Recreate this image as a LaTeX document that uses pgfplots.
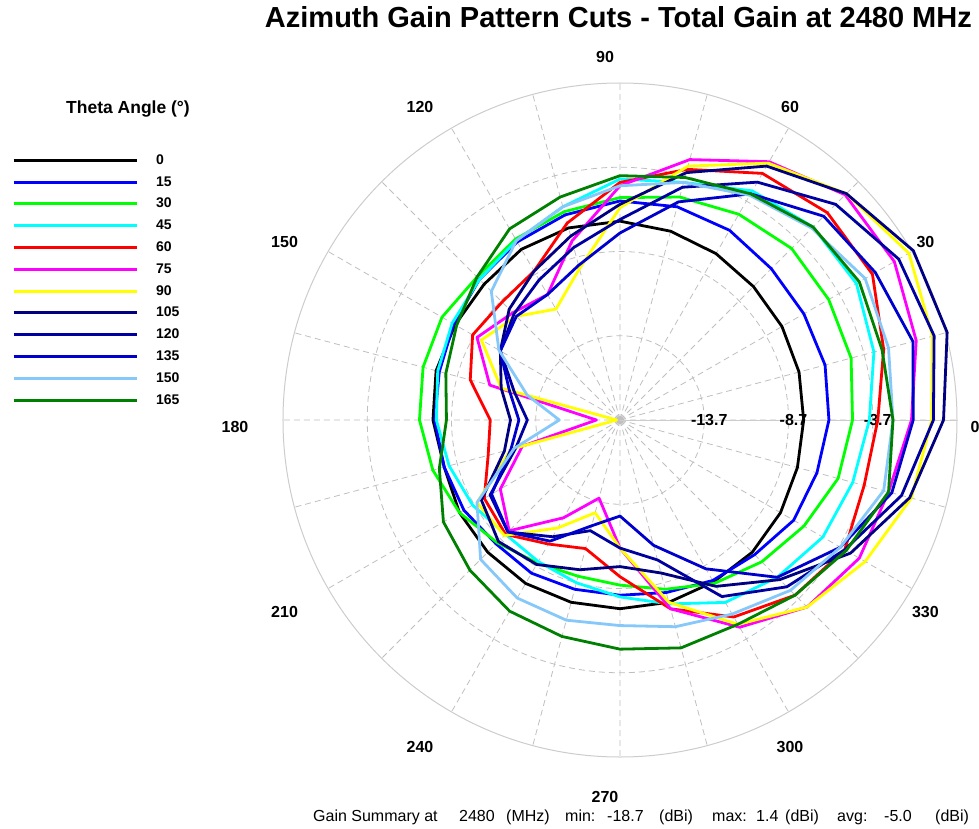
\documentclass[border=0pt]{standalone}
\usepackage{fontspec}
\setmainfont{Liberation Sans}
\usepackage{pgfplots}
\usepackage{pgfplotstable}
\pgfplotsset{compat=1.18}
\usepgfplotslibrary{polar}

\definecolor{cA}{RGB}{0,0,0}
\definecolor{cB}{RGB}{0,0,255}
\definecolor{cC}{RGB}{0,255,0}
\definecolor{cD}{RGB}{0,255,255}
\definecolor{cE}{RGB}{255,0,0}
\definecolor{cF}{RGB}{255,0,255}
\definecolor{cG}{RGB}{255,255,0}
\definecolor{cH}{RGB}{0,0,128}
\definecolor{cI}{RGB}{0,0,160}
\definecolor{cJ}{RGB}{0,0,205}
\definecolor{cK}{RGB}{135,200,250}
\definecolor{cL}{RGB}{0,128,0}

% total gain (dBi) per azimuth angle, one column per theta cut
\pgfplotstableread{
a    t0    t15   t30   t45   t60   t75   t90   t105  t120  t135  t150  t165
0   -7.8  -6.3  -4.9  -3.9  -3.4  -1.4  -0.2   0.5  -0.1  -1.3  -2.5  -2.5
15  -7.7  -6.1  -4.5  -3.1  -2.5  -0.5   0.5   1.4   0.6  -0.7  -2.2  -2.6
30  -7.6  -6.1  -4.4  -2.5  -1.4   0.1   1.1   1.4   0.4  -1.2  -1.9  -2.3
45  -7.5  -6.0  -4.3  -2.5  -1.3   0.2   0.3   0.3  -0.6  -1.6  -2.6  -2.5
60  -7.3  -5.7  -4.6  -3.0  -1.8  -1.0  -1.1  -1.3  -2.4  -3.2  -3.3  -3.2
75  -7.1  -5.6  -5.0  -4.1  -3.3  -2.7  -3.1  -3.5  -4.4  -5.3  -4.1  -3.8
90  -6.9  -5.7  -5.5  -4.4  -4.6  -4.8  -6.1  -5.9  -6.8  -7.6  -4.8  -4.2
105 -6.9  -6.1  -5.9  -5.6  -6.6  -7.7  -9.4  -7.4  -8.1  -9.2  -5.6  -5.0
120 -7.0  -6.5  -6.3  -6.4  -8.5 -10.1 -11.1  -8.5  -9.1 -10.1  -6.4  -5.6
135 -7.3  -6.9  -6.7  -6.9  -8.8  -9.7 -10.0  -9.4  -9.8 -10.0  -7.9  -6.7
150 -7.4  -7.3  -6.5  -7.2  -8.6  -8.9  -9.2 -10.5 -10.5 -10.5 -10.4  -7.5
165 -7.4  -7.6  -6.6  -7.5  -9.5 -10.7 -11.4 -11.4 -12.2 -11.9 -13.0  -8.0
180 -7.6  -7.7  -6.8  -7.8 -11.0 -17.3 -18.5 -12.2 -13.2 -12.7 -15.1  -8.4
195 -7.9  -7.9  -7.2  -8.2 -10.6 -12.7 -12.0 -11.6 -12.3 -12.0 -12.2  -7.6
210 -7.7  -8.0  -7.7  -8.6  -9.4 -10.5  -8.9  -9.2  -9.8  -9.9  -8.9  -6.6
225 -7.6  -8.3  -8.4  -9.1  -9.1  -9.4  -9.0  -8.5  -9.3  -9.3  -7.0  -6.1
240 -7.5  -8.2  -8.9  -9.0 -10.2 -12.0 -11.3  -8.8 -10.7 -10.4  -6.5  -5.6
255 -7.5  -8.3  -9.1  -8.7 -10.8 -13.9 -13.0  -9.5 -11.9 -12.2  -6.4  -5.4
270 -7.5  -8.3  -8.9  -8.2  -9.4 -11.1 -11.1 -10.0 -11.1 -13.0  -6.5  -5.1
285 -7.5  -8.1  -8.3  -7.4  -7.1  -7.1  -7.5  -9.3 -10.1 -11.0  -6.0  -4.7
300 -7.6  -7.7  -7.5  -6.2  -5.2  -4.5  -4.7  -7.3  -6.6  -8.5  -5.4  -4.7
315 -7.6  -7.4  -6.8  -5.5  -4.0  -3.0  -3.0  -5.3  -4.7  -5.5  -4.4  -4.0
330 -7.7  -6.8  -6.1  -4.8  -3.3  -2.3  -1.9  -2.9  -3.3  -3.6  -3.6  -3.2
345 -7.8  -6.6  -5.3  -4.4  -3.7  -2.2  -0.8  -0.9  -1.4  -2.0  -2.5  -2.2
360 -7.8  -6.3  -4.9  -3.9  -3.4  -1.4  -0.2   0.5  -0.1  -1.3  -2.5  -2.5
}\gain

\begin{document}
\begin{tikzpicture}
\useasboundingbox (0,0) rectangle (979pt,828pt);
\fill[gray!55] (620pt,408pt) circle (4pt);

\begin{polaraxis}[
  at={(620pt,408pt)}, anchor=center,
  width=674pt, height=674pt, scale only axis,
  xmin=0, xmax=360, ymin=0, ymax=20,
  xtick={0,30,...,330}, minor xtick={15,45,...,345},
  xticklabel={\relax},
  ytick={5,10,15}, yticklabels={-13.7,-8.7,-3.7},
  yticklabel style={anchor=center, xshift=5pt},
  ticklabel style={font=\bfseries\fontsize{16}{16}\selectfont},
  major tick length=0pt, minor tick length=0pt,
  grid=both,
  major grid style={gray!50, dash pattern=on 6pt off 4pt, line width=0.8pt},
  minor grid style={gray!50, dash pattern=on 6pt off 4pt, line width=0.8pt},
  axis line style={gray!40, line width=1pt},
  y filter/.expression={y+18.7},
  clip=false,
  every axis plot/.append style={line width=2.8pt, line join=round, no markers},
  legend style={at={(-0.4021,0.9019)}, anchor=north west, draw=none, fill=none,
    font=\bfseries\fontsize{14}{14}\selectfont, inner sep=0pt, row sep=0pt,
    column sep=18pt, nodes={inner sep=0pt, minimum height=21.8pt}},
  legend cell align=left,
  legend image code/.code={\draw[#1, line width=3pt, line cap=butt] (0pt,0pt) -- (123pt,0pt);},
]
\addplot[cA] table[x=a, y=t0]{\gain};   \addlegendentry{0}
\addplot[cB] table[x=a, y=t15]{\gain};  \addlegendentry{15}
\addplot[cC] table[x=a, y=t30]{\gain};  \addlegendentry{30}
\addplot[cD] table[x=a, y=t45]{\gain};  \addlegendentry{45}
\addplot[cE] table[x=a, y=t60]{\gain};  \addlegendentry{60}
\addplot[cF] table[x=a, y=t75]{\gain};  \addlegendentry{75}
\addplot[cG] table[x=a, y=t90]{\gain};  \addlegendentry{90}
\addplot[cH] table[x=a, y=t105]{\gain}; \addlegendentry{105}
\addplot[cI] table[x=a, y=t120]{\gain}; \addlegendentry{120}
\addplot[cJ] table[x=a, y=t135]{\gain}; \addlegendentry{135}
\addplot[cK] table[x=a, y=t150]{\gain}; \addlegendentry{150}
\addplot[cL] table[x=a, y=t165]{\gain}; \addlegendentry{165}
\end{polaraxis}

% angle labels round the outer ring
\foreach \t in {0,30,...,330}
  \node[font=\bfseries\fontsize{16}{16}\selectfont, shift={(605pt,401pt)}] at (\t:370pt) {\t};

\node[font=\bfseries\fontsize{29}{29}\selectfont, anchor=base east, inner sep=0pt]
  at (972pt,800pt) {Azimuth Gain Pattern Cuts - Total Gain at 2480 MHz};
\node[font=\bfseries\fontsize{17.5}{17.5}\selectfont, anchor=base, inner sep=0pt]
  at (128pt,714pt) {Theta Angle (°)};

% gain summary line, word by word as in the reference
\foreach \x/\w in {313/Gain Summary at, 459/2480, 506/(MHz), 565/min:, 607/-18.7,
    659/(dBi), 712/max:, 756/1.4, 785/(dBi), 837/avg:, 884/-5.0, 935/(dBi)}
  \node[font=\fontsize{16}{16}\selectfont, anchor=base west, inner sep=0pt] at (\x pt,7pt) {\w};
\end{tikzpicture}
\end{document}
